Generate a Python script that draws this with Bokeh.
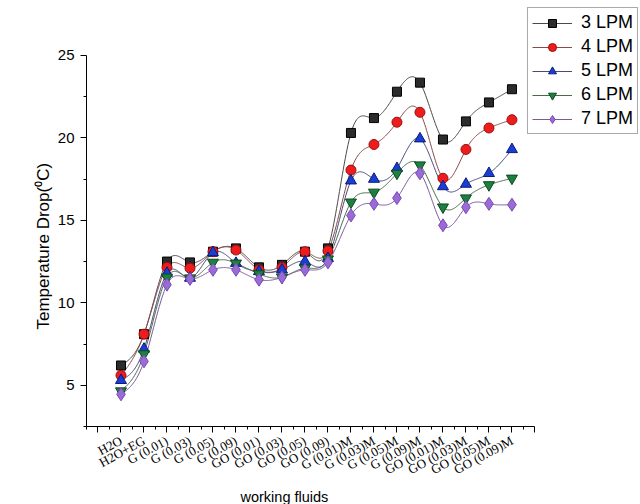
import numpy as np
from bokeh.plotting import figure
from bokeh.models import Range1d, FixedTicker, Legend, LegendItem, Title
from bokeh.embed import file_html
from bokeh.resources import INLINE

categories = ["H2O", "H2O+EG", "G (0.01)", "G (0.03)", "G (0.05)", "G (0.09)",
              "GO (0.01)", "GO (0.03)", "GO (0.05)", "GO (0.09)",
              "G (0.01)M", "G (0.03)M", "G (0.05)M", "G (0.09)M",
              "GO (0.01)M", "GO (0.03)M", "GO (0.05)M", "GO (0.09)M"]

lpm3 = [6.2, 8.1, 12.5, 12.45, 13.1, 13.3, 12.15, 12.3, 13.1, 13.3,
        20.3, 21.2, 22.8, 23.35, 19.9, 21.0, 22.15, 22.95]
lpm4 = [5.6, 8.1, 12.15, 12.1, 13.1, 13.2, 12.0, 12.15, 13.1, 13.15,
        18.05, 19.6, 20.95, 21.55, 17.55, 19.3, 20.6, 21.1]
lpm5 = [5.3, 7.2, 11.8, 11.5, 13.05, 12.4, 11.9, 12.0, 12.5, 12.7,
        17.4, 17.5, 18.15, 19.95, 17.05, 17.2, 17.85, 19.3]
lpm6 = [4.65, 6.9, 11.55, 11.5, 12.45, 12.4, 11.75, 11.55, 12.1, 12.65,
        16.1, 16.7, 17.85, 18.35, 15.8, 16.35, 17.15, 17.55]
lpm7 = [4.45, 6.45, 11.1, 11.45, 12.0, 12.0, 11.4, 11.55, 12.0, 12.45,
        15.3, 16.0, 16.35, 17.85, 14.7, 15.8, 16.0, 15.95]

series_names = ["3 LPM", "4 LPM", "5 LPM", "6 LPM", "7 LPM"]
series_values = [lpm3, lpm4, lpm5, lpm6, lpm7]

y_ticks = [5, 10, 15, 20, 25]

styles = [
    dict(marker="square", size=9, fill="#2b2b2b", edge="#000000", curve="#4a4a4a"),
    dict(marker="circle", size=10, fill="#ee1c1c", edge="#9a1010", curve="#8a4a4a"),
    dict(marker="triangle", size=11, fill="#1a3fd0", edge="#0a1a80", curve="#4a4a7a"),
    dict(marker="inverted_triangle", size=11, fill="#1e8040", edge="#0a4a20", curve="#4a6a4a"),
    dict(marker="diamond", size=13, fill="#9a6ad6", edge="#7a4ab6", curve="#7a5a9a"),
]


def natural_spline(xs, ys, n=24):
    xs = np.asarray(xs, float)
    ys = np.asarray(ys, float)
    N = len(xs)
    h = np.diff(xs)
    A = np.zeros((N, N))
    b = np.zeros(N)
    A[0, 0] = 1
    A[-1, -1] = 1
    for i in range(1, N - 1):
        A[i, i - 1] = h[i - 1]
        A[i, i] = 2 * (h[i - 1] + h[i])
        A[i, i + 1] = h[i]
        b[i] = 6 * ((ys[i + 1] - ys[i]) / h[i] - (ys[i] - ys[i - 1]) / h[i - 1])
    M = np.linalg.solve(A, b)
    out_x, out_y = [], []
    for i in range(N - 1):
        t = np.linspace(0, 1, n, endpoint=False)
        a = 1 - t
        s = (a * ys[i] + t * ys[i + 1]
             + ((a ** 3 - a) * M[i] + (t ** 3 - t) * M[i + 1]) * h[i] ** 2 / 6)
        out_x.extend(xs[i] + t * h[i])
        out_y.extend(s)
    out_x.append(xs[-1])
    out_y.append(ys[-1])
    return out_x, out_y


xpos = list(range(1, len(categories) + 1))

p = figure(width=640, height=504, output_backend="svg", toolbar_location=None,
           x_range=Range1d(-0.5, 23.59), y_range=Range1d(2.5, 28.33),
           min_border=0, min_border_left=86, min_border_right=0,
           min_border_top=0, min_border_bottom=77)
p.outline_line_color = None
p.xgrid.grid_line_color = None
p.ygrid.grid_line_color = None
p.background_fill_color = "white"
p.border_fill_color = "white"

lines = []
for vals, st in zip(series_values, styles):
    cx, cy = natural_spline(xpos, vals)
    lines.append(p.line(cx, cy, line_color=st["curve"], line_width=1))

marks = []
for vals, st in zip(series_values, styles):
    marks.append(p.scatter(xpos, vals, marker=st["marker"], size=st["size"],
                           fill_color=st["fill"], line_color=st["edge"], line_width=1))

# axes
xa = p.xaxis[0]
xa.bounds = (-0.5, len(categories) + 1)
xa.ticker = FixedTicker(ticks=list(range(0, len(categories) + 2)),
                        minor_ticks=[i + 0.5 for i in range(-1, len(categories) + 1)])
overrides = {0: "", len(categories) + 1: ""}
for i, c in enumerate(categories):
    overrides[i + 1] = c
xa.major_label_overrides = overrides
xa.major_label_orientation = 0.5
xa.major_label_text_font = "Liberation Serif"
xa.major_label_text_font_size = "13px"
xa.major_label_text_color = "black"
xa.major_label_standoff = 7

ya = p.yaxis[0]
ya.bounds = (2.5, 25)
ya.ticker = FixedTicker(ticks=y_ticks, minor_ticks=[2.5, 7.5, 12.5, 17.5, 22.5])
ya.major_label_text_font = "Liberation Sans"
ya.major_label_text_font_size = "15px"
ya.major_label_text_color = "black"
ya.major_label_standoff = 6

for ax in (xa, ya):
    ax.axis_line_color = "black"
    ax.axis_line_width = 1
    ax.major_tick_line_color = "black"
    ax.minor_tick_line_color = "black"
    ax.major_tick_out = 6
    ax.major_tick_in = 0
    ax.minor_tick_out = 3
    ax.minor_tick_in = 0

p.add_layout(Title(text="Temperature Drop(\u2070C)", align="left", offset=97, standoff=4,
                   text_font="Liberation Sans", text_font_size="17px",
                   text_font_style="normal", text_color="black"), "left")
p.add_layout(Title(text="working fluids", align="left", offset=154, standoff=0,
                   text_font="Liberation Sans", text_font_size="14.5px",
                   text_font_style="normal", text_color="black"), "below")

items = [LegendItem(label=n, renderers=[l, m]) for n, l, m in zip(series_names, lines, marks)]
legend = Legend(items=items, location=(441, 292), margin=0,
                label_text_font="Liberation Sans", label_text_font_size="18px",
                label_text_color="black",
                glyph_width=40, glyph_height=20, label_height=20, spacing=3,
                padding=4, label_standoff=9,
                border_line_color="#555555", border_line_width=1,
                background_fill_color="white", background_fill_alpha=1)
p.add_layout(legend)

open("out.html", "w").write(file_html(p, INLINE))
